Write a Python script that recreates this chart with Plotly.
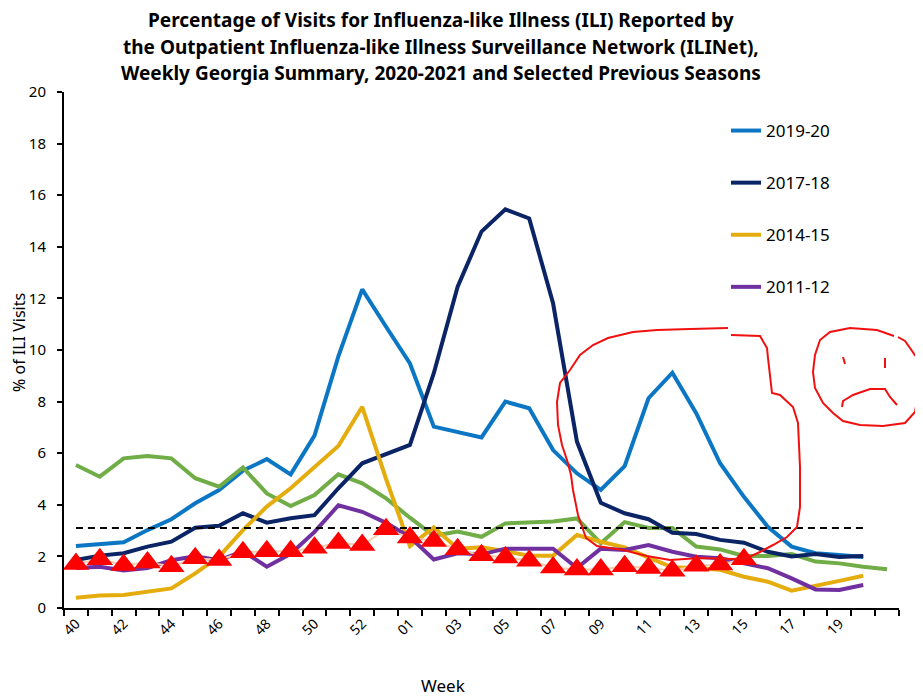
import plotly.graph_objects as go

# ---------------- data ----------------
weeks = ["40", "41", "42", "43", "44", "45", "46", "47", "48", "49", "50", "51", "52", "53",
         "01", "02", "03", "04", "05", "06", "07", "08", "09", "10", "11", "12", "13", "14",
         "15", "16", "17", "18", "19", "20", "21"]

s2019_20 = [2.40, 2.48, 2.55, 3.02, 3.44, 4.06, 4.57, 5.32, 5.77, 5.18, 6.68, 9.75, 12.35, 10.9,
            9.48, 7.03, 6.82, 6.61, 8.00, 7.74, 6.12, 5.22, 4.58, 5.50, 8.13, 9.12, 7.55, 5.61,
            4.31, 3.15, 2.38, 2.12, 2.05, 1.98]
s2017_18 = [1.86, 2.03, 2.12, 2.38, 2.57, 3.11, 3.19, 3.67, 3.31, 3.48, 3.60, 4.64, 5.61, 5.97,
            6.32, 9.10, 12.45, 14.59, 15.45, 15.10, 11.81, 6.45, 4.08, 3.67, 3.44, 2.92, 2.87, 2.64,
            2.53, 2.18, 2.00, 2.09, 1.98, 2.02]
s2014_15 = [0.40, 0.48, 0.50, 0.63, 0.76, 1.34, 1.99, 3.02, 3.93, 4.64, 5.48, 6.28, 7.80, 5.00,
            2.40, 3.13, 2.30, 2.35, 2.20, 2.03, 2.03, 2.83, 2.57, 2.35, 1.95, 1.58, 1.55, 1.48,
            1.21, 1.02, 0.67, 0.85, 1.05, 1.25]
s2011_12 = [1.55, 1.60, 1.45, 1.55, 1.85, 2.00, 1.85, 2.20, 1.60, 2.10, 2.95, 3.98, 3.73, 3.30,
            2.75, 1.88, 2.12, 2.08, 2.30, 2.30, 2.30, 1.55, 2.30, 2.25, 2.44, 2.18, 1.99, 1.93,
            1.73, 1.54, 1.15, 0.72, 0.70, 0.89]
s_green = [5.54, 5.09, 5.80, 5.89, 5.80, 5.03, 4.70, 5.45, 4.44, 3.95, 4.38, 5.18, 4.83, 4.25,
           3.50, 2.80, 2.96, 2.76, 3.28, 3.31, 3.35, 3.47, 2.51, 3.33, 3.10, 3.10, 2.38, 2.27,
           2.02, 2.02, 2.09, 1.80, 1.73, 1.60, 1.50]
s2020_21 = [1.71, 1.89, 1.67, 1.76, 1.62, 1.93, 1.86, 2.16, 2.20, 2.20, 2.34, 2.52, 2.44, 3.05,
            2.73, 2.60, 2.28, 2.04, 1.96, 1.83, 1.57, 1.49, 1.49, 1.62, 1.55, 1.44, 1.64, 1.69,
            1.89]
baseline_value = 3.1
baseline_weeks = ["40", "20"]

y_ticks = [0, 2, 4, 6, 8, 10, 12, 14, 16, 18, 20]

# ---------------- helpers ----------------
xpos = {w: i for i, w in enumerate(weeks)}
label_weeks = [w for i, w in enumerate(weeks) if i % 2 == 0 and i <= 32]

FONT = "Noto Sans"
OFF = 8                      # page body margin of the browser
W, H = 923 - OFF, 698 - OFF
# plot area in the reference picture's pixel coordinates
PL, PR, PT, PB = 64, 899, 92, 608
PW, PH = PR - PL, PB - PT
ML, MT = PL - OFF, PT - OFF
MR, MB = W - (PR - OFF), H - (PB - OFF)


def xs(series):
    return list(range(len(series)))


def px_x(x):
    return (x - PL) / PW


def px_y(y):
    return (PB - y) / PH


fig = go.Figure()

fig.add_trace(go.Scatter(x=xs(s2019_20), y=s2019_20, mode="lines", name="2019-20",
                         line=dict(color="#0B76C4", width=4), legendgroup="a"))
fig.add_trace(go.Scatter(x=xs(s_green), y=s_green, mode="lines", name="other",
                         line=dict(color="#70AD47", width=4), showlegend=False))
fig.add_trace(go.Scatter(x=xs(s2017_18), y=s2017_18, mode="lines", name="2017-18",
                         line=dict(color="#0A2466", width=4), legendgroup="b"))
fig.add_trace(go.Scatter(x=xs(s2014_15), y=s2014_15, mode="lines", name="2014-15",
                         line=dict(color="#E5AC0E", width=4), legendgroup="c"))
fig.add_trace(go.Scatter(x=xs(s2011_12), y=s2011_12, mode="lines", name="2011-12",
                         line=dict(color="#7030A0", width=4), legendgroup="d"))
fig.add_trace(go.Scatter(x=[xpos[w] for w in baseline_weeks], y=[baseline_value] * 2,
                         mode="lines", name="Baseline", showlegend=False,
                         line=dict(color="black", width=2, dash="7px,5px")))
fig.add_trace(go.Scatter(x=xs(s2020_21), y=s2020_21, mode="lines+markers", name="2020-21",
                         showlegend=False,
                         line=dict(color="#F8CBAD", width=2),
                         marker=dict(symbol="triangle-up", size=23, color="#FF0000",
                                     line=dict(width=0))))

# ---------------- hand-drawn red annotations (pixel coords of the drawing) ----------------
loop_px = [(728, 328), (690, 329), (657, 330), (633, 332), (608, 338), (593, 345), (580, 355),
           (570, 370), (560, 383), (557, 402), (558, 425), (562, 445), (567, 460), (571, 475),
           (573, 490), (578, 515), (586, 538), (597, 546), (623, 550), (647, 556), (670, 560),
           (700, 558), (733, 559), (747, 558), (760, 552), (773, 545), (787, 537), (797, 527),
           (800, 507), (800, 467), (798, 423), (793, 407), (780, 395), (772, 393), (768, 358),
           (767, 348), (760, 336), (731, 335)]
face_px = [(894, 336), (877, 330), (850, 328), (830, 332), (820, 340), (815, 355), (813, 372),
           (815, 388), (823, 403), (833, 413), (843, 421), (860, 425), (883, 426), (905, 423),
           (915, 412), (918, 395), (919, 375), (917, 358), (910, 348), (905, 341), (898, 337)]
eye_l_px = [(843, 357), (845, 364)]
eye_r_px = [(885, 358), (885, 368)]
mouth_px = [(842, 407), (843, 401), (853, 395), (870, 389), (885, 389), (890, 397), (897, 405)]


def path_of(pts):
    return "M " + " L ".join(f"{px_x(a):.5f},{px_y(b):.5f}" for a, b in pts)


for pts in [loop_px, face_px, eye_l_px, eye_r_px, mouth_px]:
    fig.add_shape(type="path", path=path_of(pts), xref="paper", yref="paper",
                  line=dict(color="#F01010", width=2), layer="above")

# ---------------- titles ----------------
title_lines = ["Percentage of Visits for Influenza-like Illness (ILI) Reported by",
               "the Outpatient Influenza-like Illness Surveillance Network (ILINet),",
               "Weekly Georgia Summary, 2020-2021 and Selected Previous Seasons"]
title_py = [20, 47, 73]
for t, py in zip(title_lines, title_py):
    fig.add_annotation(text=f"<b>{t}</b>", x=px_x(441), y=px_y(py),
                       xref="paper", yref="paper", showarrow=False, xanchor="center",
                       yanchor="middle", font=dict(family=FONT, size=19, color="black"))

fig.add_annotation(text="Week", x=px_x(443), y=px_y(685), xref="paper",
                   yref="paper", showarrow=False, xanchor="center", yanchor="middle",
                   font=dict(family=FONT, size=17, color="black"))
fig.add_annotation(text="% of ILI Visits", x=px_x(19), y=px_y(343),
                   xref="paper", yref="paper", showarrow=False, textangle=-90,
                   xanchor="center", yanchor="middle", borderpad=0,
                   font=dict(family=FONT, size=16, color="black"))

fig.update_layout(
    width=W, height=H,
    margin=dict(l=ML, r=MR, t=MT, b=MB),
    paper_bgcolor="white", plot_bgcolor="white",
    font=dict(family=FONT, color="black"),
    showlegend=True,
    legend=dict(x=px_x(726), y=px_y(113), xanchor="left", yanchor="top",
                font=dict(family=FONT, size=17, color="black"), tracegroupgap=27,
                bgcolor="rgba(0,0,0,0)", itemclick=False),
)

fig.update_xaxes(
    range=[-0.5, 34.5], showgrid=False, zeroline=False,
    showline=True, linecolor="black", linewidth=2,
    tickmode="array", tickvals=[xpos[w] for w in label_weeks], ticktext=label_weeks,
    ticks="", tickangle=-45, tickfont=dict(family=FONT, size=14, color="black"),
    minor=dict(tickmode="array", tickvals=[i - 0.5 for i in range(len(weeks) + 1)],
               ticks="outside", ticklen=6, tickwidth=1.5, tickcolor="black", showgrid=False),
)
fig.update_yaxes(
    range=[0, 20], tickmode="array", tickvals=y_ticks, showgrid=False, zeroline=False,
    showline=True, linecolor="black", linewidth=2,
    ticks="outside", ticklen=5, tickwidth=1.5, tickcolor="black",
    tickfont=dict(family=FONT, size=15, color="black"), ticklabelstandoff=8,
)

fig.write_html("out.html")
